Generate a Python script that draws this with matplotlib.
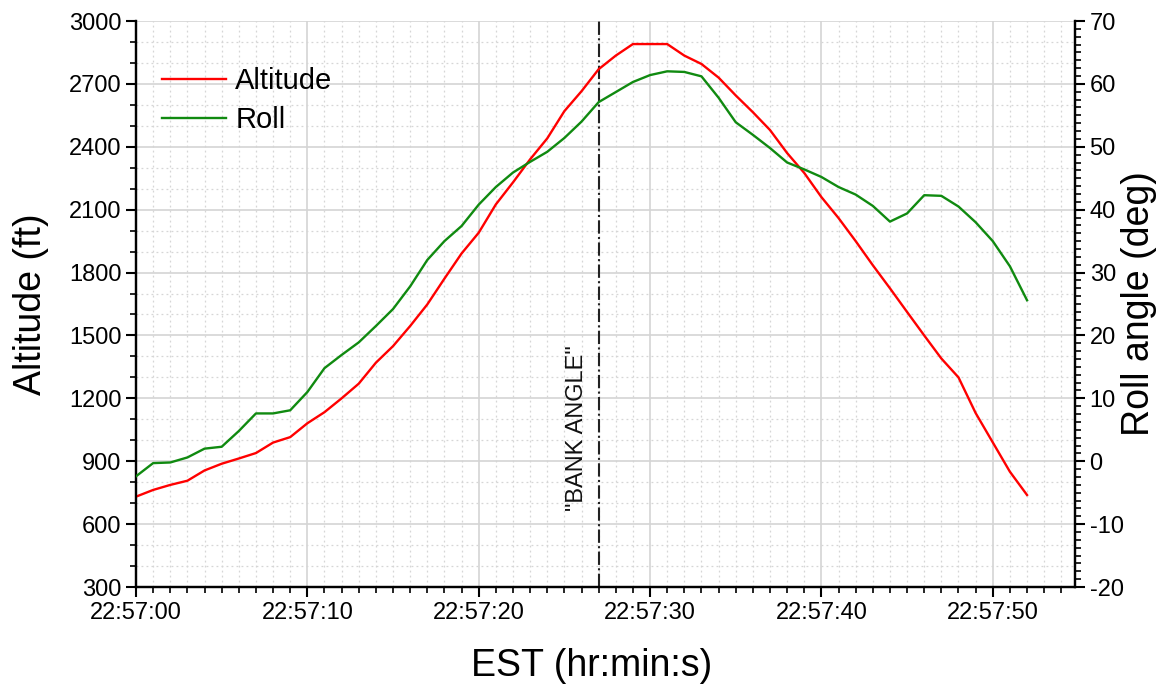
import matplotlib
matplotlib.use("Agg")
import matplotlib.pyplot as plt
from matplotlib.ticker import MultipleLocator, FixedLocator

plt.rcParams['font.family'] = ['Liberation Sans', 'DejaVu Sans']
plt.rcParams['axes.unicode_minus'] = False

# Data (time in seconds after 22:57:00)
time_s = list(range(53))
altitude_ft = [731, 763, 787, 807, 856, 888, 913, 939, 989, 1015,
               1081, 1134, 1200, 1270, 1370, 1449, 1545, 1648, 1771, 1891,
               1990, 2125, 2230, 2340, 2440, 2570, 2665, 2770, 2835, 2890,
               2890, 2890, 2835, 2795, 2730, 2645, 2565, 2480, 2370, 2275,
               2160, 2060, 1950, 1835, 1725, 1612, 1500, 1390, 1300, 1130,
               990, 850, 739]
roll_deg = [-2.4, -0.3, -0.2, 0.6, 2.0, 2.3, 4.8, 7.6, 7.6, 8.1,
            11.0, 14.8, 16.9, 18.9, 21.5, 24.2, 27.8, 32.0, 35.0, 37.4,
            40.8, 43.6, 45.9, 47.6, 49.2, 51.4, 54.0, 57.1, 58.7, 60.3,
            61.4, 62.0, 61.9, 61.2, 57.8, 53.9, 51.9, 49.8, 47.5, 46.4,
            45.2, 43.6, 42.4, 40.6, 38.1, 39.4, 42.3, 42.2, 40.5, 38.0,
            35.0, 31.0, 25.6]
xtick_pos = [0, 10, 20, 30, 40, 50]
xtick_labels = ["22:57:00", "22:57:10", "22:57:20", "22:57:30", "22:57:40", "22:57:50"]
bank_angle_time = 27
bank_label_alt = 1058

fig = plt.figure(figsize=(11.65, 6.86), dpi=100)
ax = fig.add_axes([136/1165, 1-587/686, (1075-136)/1165, (587-21)/686])
ax2 = ax.twinx()

l1, = ax.plot(time_s, altitude_ft, color='#ff0000', lw=1.7, label='Altitude', zorder=3)
l2, = ax2.plot(time_s, roll_deg, color='#108a10', lw=1.7, label='Roll', zorder=3)

ax.axvline(bank_angle_time, color='#222222', lw=1.5, ls='-.', zorder=2)
ax.text(bank_angle_time - 0.65, bank_label_alt, '"BANK ANGLE"', rotation=90, ha='right',
        va='center', fontsize=17, color='#111111')

ax.set_xlim(0, 54.8)
ax.set_ylim(300, 3000)
ax2.set_ylim(-20, 70)

ax.xaxis.set_major_locator(FixedLocator(xtick_pos))
ax.set_xticklabels(xtick_labels)
ax.xaxis.set_minor_locator(MultipleLocator(1))
ax.yaxis.set_major_locator(MultipleLocator(300))
ax.yaxis.set_minor_locator(MultipleLocator(100))
ax2.yaxis.set_major_locator(MultipleLocator(10))
ax2.yaxis.set_minor_locator(MultipleLocator(1.25))

ax.grid(which='major', color='#d4d4d4', lw=1.2, ls='-')
ax.grid(which='minor', color='#d6d6d6', lw=0.9, ls=(0, (1.5, 2.5)))
ax.set_axisbelow(True)

for a in (ax, ax2):
    a.spines['top'].set_visible(False)
    for s in ('left', 'right', 'bottom'):
        a.spines[s].set_linewidth(1.6)
    a.tick_params(which='major', direction='out', length=7, width=1.5, labelsize=17)
    a.tick_params(which='minor', direction='out', length=4, width=1.2)

ax.set_xlabel('EST (hr:min:s)', fontsize=27)
ax.xaxis.set_label_coords((592 - 136) / 939, -0.108)
ax.set_ylabel('Altitude (ft)', fontsize=27, labelpad=14)
ax2.set_ylabel('Roll angle (deg)', fontsize=27, labelpad=-2)

leg = ax.legend(handles=[l1, l2], loc='upper left', bbox_to_anchor=(0.0, 0.965),
                frameon=False, fontsize=21, handlelength=2.2, handletextpad=0.3,
                labelspacing=0.38)

fig.savefig('out.png', dpi=100)
